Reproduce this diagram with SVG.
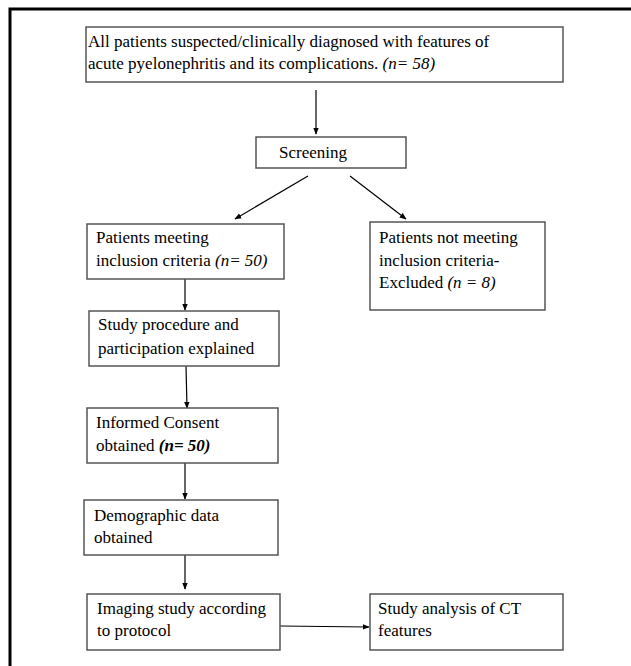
<svg xmlns="http://www.w3.org/2000/svg" width="631" height="666" viewBox="0 0 631 666">
<defs>
<marker id="ah" viewBox="0 0 10 10" refX="9" refY="5" markerWidth="7" markerHeight="7" markerUnits="userSpaceOnUse" orient="auto">
<path d="M0,1 L10,5 L0,9 Z" fill="#000"/>
</marker>
<style>
.box{fill:#fff;stroke:#555;stroke-width:1.5}
.t{font-family:"Liberation Serif","Times New Roman",serif;font-size:17px;fill:#000}
.i{font-style:italic}
.bi{font-style:italic;font-weight:bold}
.c{stroke:#000;stroke-width:1.2;fill:none;marker-end:url(#ah)}
</style>
</defs>
<rect x="0" y="0" width="631" height="666" fill="#fff"/>
<path d="M10,666 V9 H631" fill="none" stroke="#000" stroke-width="3"/>
<g id="connectors">
<line class="c" x1="316" y1="90" x2="316" y2="134"/>
<line class="c" x1="308" y1="176" x2="235" y2="219"/>
<line class="c" x1="350" y1="176" x2="406" y2="219"/>
<line class="c" x1="185" y1="279" x2="185" y2="310"/>
<line class="c" x1="186" y1="366" x2="187" y2="408"/>
<line class="c" x1="185" y1="463" x2="185" y2="499"/>
<line class="c" x1="185" y1="555" x2="185" y2="589"/>
<line class="c" x1="280" y1="626" x2="369" y2="627"/>
</g>
<g id="n-all">
<rect class="box" x="86" y="27" width="477" height="55"/>
<text class="t" x="88" y="47">All patients suspected/clinically diagnosed with features of</text>
<text class="t" x="88" y="69">acute pyelonephritis and its complications. <tspan class="i">(n= 58)</tspan></text>
</g>
<g id="n-screening">
<rect class="box" x="256" y="137" width="150" height="31"/>
<text class="t" x="279" y="158">Screening</text>
</g>
<g id="n-meeting">
<rect class="box" x="87" y="224" width="197" height="55"/>
<text class="t" x="96" y="243">Patients meeting</text>
<text class="t" x="96" y="266">inclusion criteria <tspan class="i">(n= 50)</tspan></text>
</g>
<g id="n-excluded">
<rect class="box" x="370" y="222" width="175" height="88"/>
<text class="t" x="379" y="243">Patients not meeting</text>
<text class="t" x="379" y="266">inclusion criteria-</text>
<text class="t" x="379" y="288">Excluded <tspan class="i">(n = 8)</tspan></text>
</g>
<g id="n-procedure">
<rect class="box" x="89" y="311" width="190" height="55"/>
<text class="t" x="98" y="330">Study procedure and</text>
<text class="t" x="98" y="354">participation explained</text>
</g>
<g id="n-consent">
<rect class="box" x="87" y="408" width="191" height="55"/>
<text class="t" x="96" y="428">Informed Consent</text>
<text class="t" x="96" y="451">obtained <tspan class="bi">(n= 50)</tspan></text>
</g>
<g id="n-demographic">
<rect class="box" x="84" y="500" width="194" height="55"/>
<text class="t" x="94" y="521">Demographic data</text>
<text class="t" x="94" y="543">obtained</text>
</g>
<g id="n-imaging">
<rect class="box" x="87" y="594" width="193" height="56"/>
<text class="t" x="97" y="614">Imaging study according</text>
<text class="t" x="97" y="636">to protocol</text>
</g>
<g id="n-analysis">
<rect class="box" x="370" y="594" width="193" height="56"/>
<text class="t" x="378" y="614">Study analysis of CT</text>
<text class="t" x="378" y="636">features</text>
</g>
</svg>
